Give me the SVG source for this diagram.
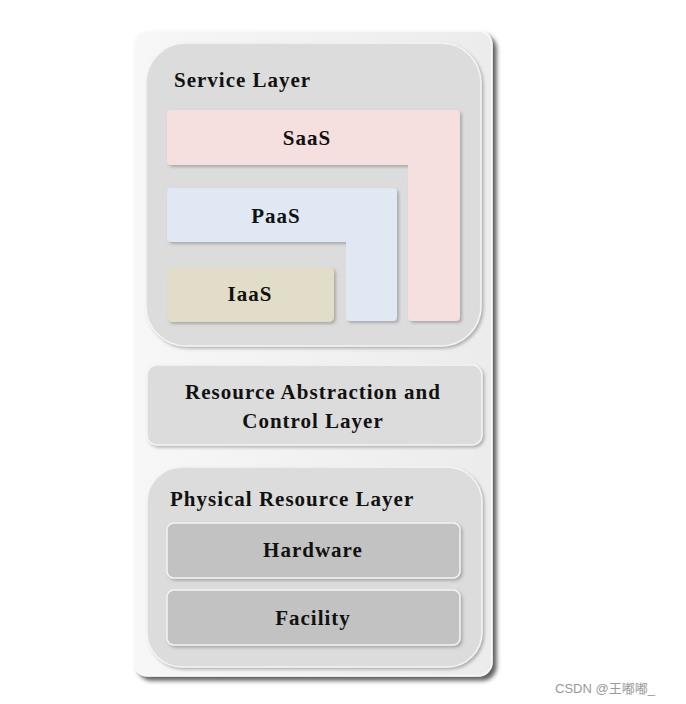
<svg xmlns="http://www.w3.org/2000/svg" width="686" height="704" viewBox="0 0 686 704">
<defs>
<linearGradient id="outerG" x1="0" y1="0" x2="1" y2="0">
<stop offset="0" stop-color="#f7f7f7"/>
<stop offset="1" stop-color="#ececec"/>
</linearGradient>
<filter id="shOuter" x="-10%" y="-10%" width="130%" height="130%">
<feDropShadow dx="4" dy="4" stdDeviation="2" flood-color="#444" flood-opacity="0.85"/>
</filter>
<filter id="sh" x="-10%" y="-10%" width="130%" height="130%">
<feDropShadow dx="2" dy="2" stdDeviation="1.5" flood-color="#777" flood-opacity="0.5"/>
</filter>
</defs>
<style>
.t{font-family:"Liberation Serif","Times New Roman",serif;font-weight:bold;font-size:21px;letter-spacing:1px;fill:#111}
.c{text-anchor:middle}
.wm{font-family:"Liberation Sans","Noto Sans CJK SC",sans-serif;font-size:13px;fill:#999}
.box{stroke:#f4f4f4;stroke-width:1.5}
</style>
<rect width="686" height="704" fill="#ffffff"/>
<g id="outer">
<rect x="134" y="31" width="358" height="645" rx="14" fill="url(#outerG)" stroke="#fafafa" stroke-width="1.5" filter="url(#shOuter)"/>
</g>
<g id="service-layer">
<rect x="146" y="43" width="335" height="303" rx="40" fill="#dcdcdc" class="box" filter="url(#sh)"/>
<text class="t" x="174" y="87">Service Layer</text>
</g>
<g id="saas">
<path d="M171,110 H456 Q460,110 460,114 V317 Q460,321 456,321 H412 Q408,321 408,317 V165 H171 Q167,165 167,161 V114 Q167,110 171,110 Z" fill="#f5dfdf" filter="url(#sh)"/>
<text class="t c" x="307" y="145">SaaS</text>
</g>
<g id="paas">
<path d="M171,188 H393 Q397,188 397,192 V317 Q397,321 393,321 H350 Q346,321 346,317 V242 H171 Q167,242 167,238 V192 Q167,188 171,188 Z" fill="#dfe8f3" filter="url(#sh)"/>
<text class="t c" x="276" y="223">PaaS</text>
</g>
<g id="iaas">
<rect x="167" y="267" width="167" height="55" rx="5" fill="#e1ddc8" filter="url(#sh)"/>
<text class="t c" x="250" y="301">IaaS</text>
</g>
<g id="resource-abstraction">
<rect x="147" y="365" width="335" height="80" rx="10" fill="#dcdcdc" class="box" filter="url(#sh)"/>
<text class="t c" x="313" y="399">Resource Abstraction and</text>
<text class="t c" x="313" y="428">Control Layer</text>
</g>
<g id="physical-layer">
<rect x="147" y="467" width="335" height="200" rx="35" fill="#dcdcdc" class="box" filter="url(#sh)"/>
<text class="t" x="170" y="506">Physical Resource Layer</text>
</g>
<g id="hardware">
<rect x="167" y="523" width="293" height="55" rx="7" fill="#c2c2c2" class="box" filter="url(#sh)"/>
<text class="t c" x="313" y="557">Hardware</text>
</g>
<g id="facility">
<rect x="167" y="590" width="293" height="55" rx="7" fill="#c2c2c2" class="box" filter="url(#sh)"/>
<text class="t c" x="313" y="625">Facility</text>
</g>
<g id="connectors"></g>
<text class="wm" x="555" y="693">CSDN @王嘟嘟_</text>
</svg>
